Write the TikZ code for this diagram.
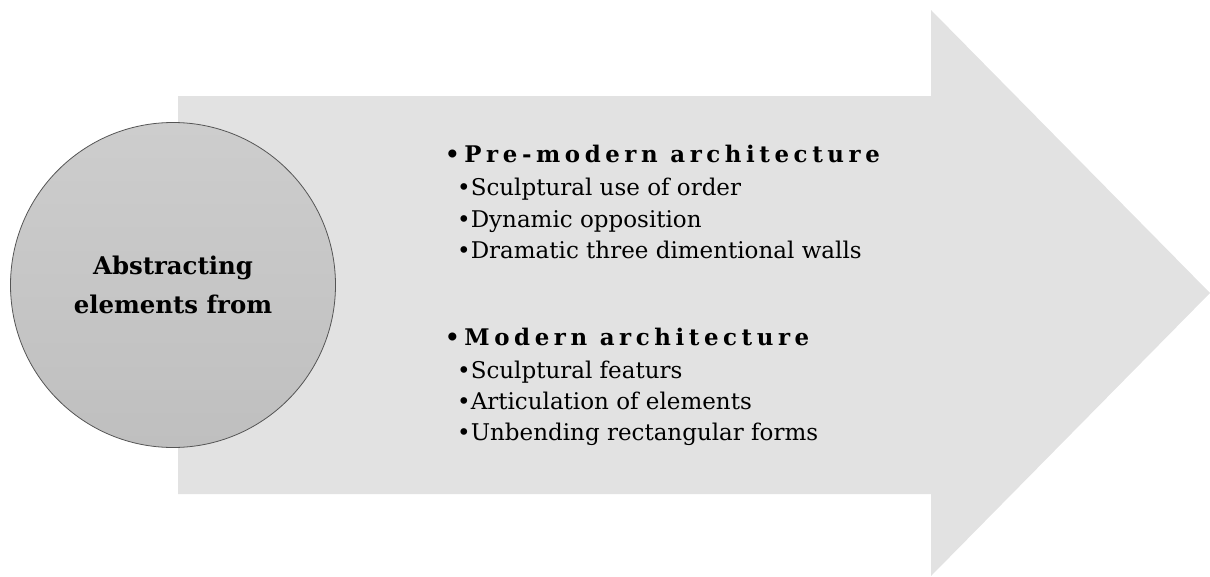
\documentclass[tikz,border=0pt]{standalone}
\usepackage{fontspec}
\setmainfont{DejaVu Serif}
\newfontfamily\headfont[LetterSpace=20]{DejaVu Serif}
\usetikzlibrary{shapes.geometric}
\definecolor{arrowgray}{HTML}{E2E2E2}
\definecolor{circtop}{HTML}{CDCDCD}
\definecolor{circbot}{HTML}{BFBFBF}
\definecolor{circline}{HTML}{555555}
\tikzset{
  headtext/.style={anchor=base west, inner sep=0pt, font=\headfont\bfseries\fontsize{22.9}{26}\selectfont},
  itemtext/.style={anchor=base west, inner sep=0pt, font=\fontsize{23}{26}\selectfont},
}
\begin{document}
\begin{tikzpicture}[x=1pt,y=-1pt]
\useasboundingbox (0,0) rectangle (1210,576);
% big arrow
\fill[arrowgray] (178,96) -- (931,96) -- (931,10) -- (1210,293) -- (931,576) -- (931,494) -- (178,494) -- cycle;
% circle
\node[circle, minimum size=325pt, inner sep=0pt, draw=circline, line width=0.8pt,
      top color=circtop, bottom color=circbot, align=center,
      font=\bfseries\fontsize{24.4}{39}\selectfont] (abs) at (173,285) {Abstracting\\elements from};
% text
\node[headtext] (h1) at (445,162) {•Pre-modern architecture};
\node[itemtext] (i11) at (457,195) {•Sculptural use of order};
\node[itemtext] (i12) at (457,227) {•Dynamic opposition};
\node[itemtext] (i13) at (457,258) {•Dramatic three dimentional walls};
\node[headtext] (h2) at (445,345) {•Modern architecture};
\node[itemtext] (i21) at (457,378) {•Sculptural featurs};
\node[itemtext] (i22) at (457,409) {•Articulation of elements};
\node[itemtext] (i23) at (457,440) {•Unbending rectangular forms};
\end{tikzpicture}
\end{document}
